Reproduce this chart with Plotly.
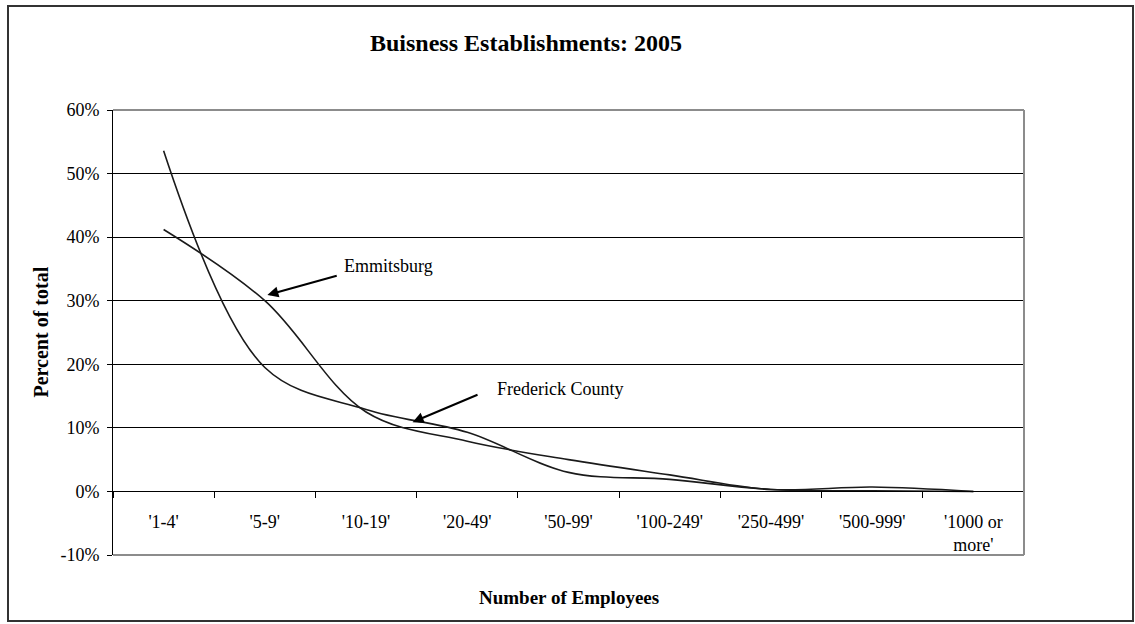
import plotly.graph_objects as go

# Establishment size classes (number of employees)
categories = ["'1-4'", "'5-9'", "'10-19'", "'20-49'", "'50-99'",
              "'100-249'", "'250-499'", "'500-999'", "'1000 or<br>more'"]

# Share of all establishments in each size class, percent
frederick_county = [53.6, 19.5, 12.9, 9.3, 3.0, 1.9, 0.3, 0.1, 0.0]
emmitsburg = [41.2, 30.0, 12.5, 7.9, 5.0, 2.6, 0.3, 0.7, 0.0]

y_ticks = [-10, 0, 10, 20, 30, 40, 50, 60]
y_tick_labels = ["-10%", "0%", "10%", "20%", "30%", "40%", "50%", "60%"]

FONT = "Liberation Serif"
LINE = "#1a1a1a"

fig = go.Figure()
for name, vals in [("Frederick County", frederick_county), ("Emmitsburg", emmitsburg)]:
    fig.add_trace(go.Scatter(
        x=categories, y=vals, name=name, mode="lines",
        line=dict(color=LINE, width=1.6, shape="spline", smoothing=1.0),
        showlegend=False, hoverinfo="skip",
    ))

W, H = 1135, 624
ML, MR, MT, MB = 113, 111, 110, 69
pw, ph = W - ML - MR, H - MT - MB


def px_x(p):
    return (p - ML) / pw


def px_y(p):
    return (H - MB - p) / ph


fig.update_layout(
    width=W, height=H,
    margin=dict(l=ML, r=MR, t=MT, b=MB, pad=0),
    paper_bgcolor="white", plot_bgcolor="white",
    font=dict(family=FONT, size=18, color="black"),
    xaxis=dict(
        type="category", range=[-0.5, 8.5], tickson="boundaries",
        ticks="outside", ticklen=6, tickcolor="black", tickwidth=1,
        showgrid=False, showline=True, linecolor="black", linewidth=1,
        anchor="free", position=1 / 7, ticklabelstandoff=14,
        tickfont=dict(family=FONT, size=18, color="black"),
    ),
    yaxis=dict(
        range=[-10, 60], tickmode="array", tickvals=y_ticks, ticktext=y_tick_labels,
        ticks="outside", ticklen=5, tickcolor="black", tickwidth=1,
        showline=True, linecolor="black", linewidth=1,
        showgrid=True, gridcolor="black", gridwidth=1, zeroline=False,
        ticklabelstandoff=4,
        tickfont=dict(family=FONT, size=18, color="black"),
    ),
)

shapes = [
    # outer chart frame
    dict(type="rect", xref="paper", yref="paper",
         x0=px_x(8), x1=px_x(1133), y0=px_y(621), y1=px_y(6),
         line=dict(color="#333333", width=2), layer="below"),
    # plot-area border (top, right, bottom)
    dict(type="line", xref="paper", yref="paper", x0=0, x1=1, y0=1, y1=1,
         line=dict(color="#8c8c8c", width=2)),
    dict(type="line", xref="paper", yref="paper", x0=1, x1=1, y0=0, y1=1,
         line=dict(color="#8c8c8c", width=2)),
    dict(type="line", xref="paper", yref="paper", x0=0, x1=1, y0=0, y1=0,
         line=dict(color="#8c8c8c", width=2)),
]
fig.update_layout(shapes=shapes)

annotations = [
    dict(text="<b>Buisness Establishments: 2005</b>", xref="paper", yref="paper",
         x=px_x(526), y=px_y(43), xanchor="center", yanchor="middle",
         showarrow=False, font=dict(family=FONT, size=24, color="black")),
    dict(text="<b>Percent of total</b>", xref="paper", yref="paper",
         x=px_x(40), y=0.5, xanchor="center", yanchor="middle", textangle=-90,
         showarrow=False, font=dict(family=FONT, size=20, color="black")),
    dict(text="<b>Number of Employees</b>", xref="paper", yref="paper",
         x=0.5, y=px_y(597), xanchor="center", yanchor="middle",
         showarrow=False, font=dict(family=FONT, size=19, color="black")),
    # series labels
    dict(text="Emmitsburg", xref="x", yref="y", x=2.22, y=35.4,
         xanchor="center", yanchor="middle", showarrow=False,
         font=dict(family=FONT, size=18, color="black")),
    dict(text="Frederick County", xref="x", yref="y", x=3.92, y=16.1,
         xanchor="center", yanchor="middle", showarrow=False,
         font=dict(family=FONT, size=18, color="black")),
    # pointer arrows
    dict(text="", xref="x", yref="y", x=1.025, y=30.9,
         axref="x", ayref="y", ax=1.725, ay=34.0,
         showarrow=True, arrowhead=2, arrowsize=1.1, arrowwidth=2,
         arrowcolor="black", standoff=0),
    dict(text="", xref="x", yref="y", x=2.46, y=10.9,
         axref="x", ayref="y", ax=3.116, ay=15.3,
         showarrow=True, arrowhead=2, arrowsize=1.1, arrowwidth=2,
         arrowcolor="black", standoff=0),
]
fig.update_layout(annotations=annotations)

fig.write_html("out.html")
